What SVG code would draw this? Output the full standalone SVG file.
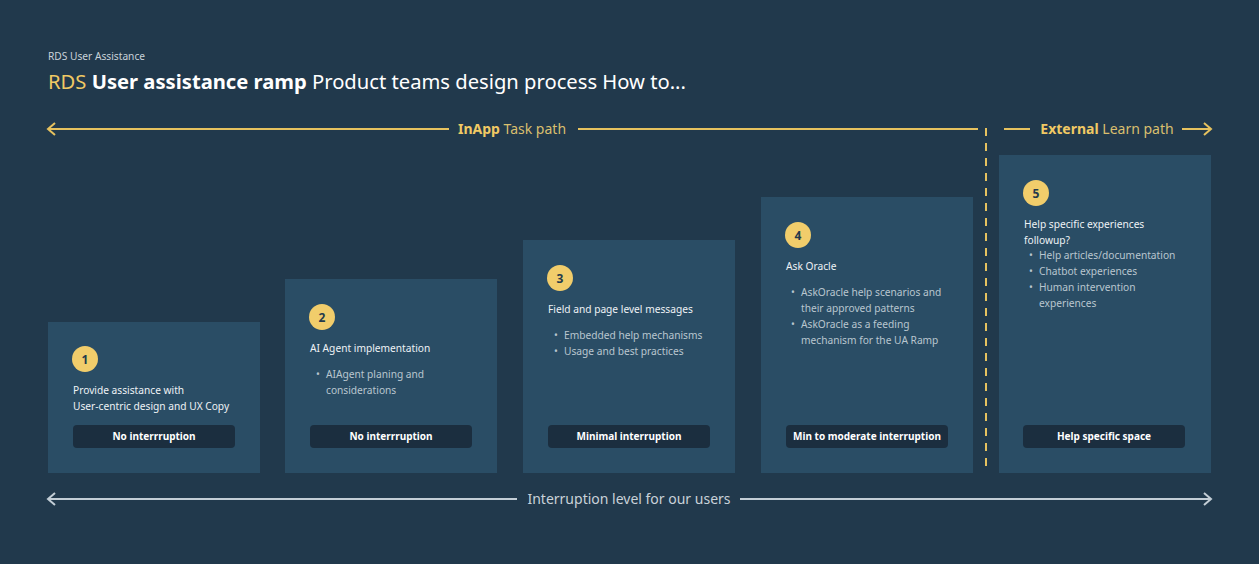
<svg xmlns="http://www.w3.org/2000/svg" width="1259" height="564" viewBox="0 0 1259 564">
<defs>
<style>
.t{font-family:"Noto Sans","Open Sans","Liberation Sans",sans-serif}
.box{fill:#2a4d65}
.pill{fill:#1b2e3f}
.badge{fill:#f1cd6b}
.num{font-size:12px;font-weight:700;fill:#243a4c;text-anchor:middle}
.h{font-size:10.2px;fill:#eef2f5}
.b{font-size:10.2px;fill:#b9c6cf}
.pt{font-size:10px;font-weight:700;fill:#ffffff;text-anchor:middle}
.yl{stroke:#e6c25f;stroke-width:2;fill:none}
.gl{stroke:#c3ced6;stroke-width:2;fill:none}
</style>
</defs>
<rect width="1259" height="564" fill="#21394c"/>
<text class="t" x="48" y="60" font-size="10.2" fill="#c9d2d9">RDS User Assistance</text>
<text class="t" x="48" y="89" font-size="20.2"><tspan fill="#f0c964">RDS </tspan><tspan fill="#ffffff" font-weight="700">User assistance ramp</tspan><tspan fill="#ffffff"> Product teams design process How to...</tspan></text>
<g id="connectors">
<line class="yl" x1="48" y1="129" x2="449" y2="129"/>
<polyline class="yl" points="55,123 48,129 55,135"/>
<line class="yl" x1="578" y1="129" x2="978" y2="129"/>
<line class="yl" x1="986" y1="128" x2="986" y2="473" stroke-dasharray="8,7"/>
<line class="yl" x1="1004" y1="129" x2="1030" y2="129"/>
<line class="yl" x1="1182" y1="129" x2="1211" y2="129"/>
<polyline class="yl" points="1204,123 1211,129 1204,135"/>
<line class="gl" x1="48" y1="499" x2="517" y2="499"/>
<polyline class="gl" points="55,493 48,499 55,505"/>
<line class="gl" x1="740" y1="499" x2="1211" y2="499"/>
<polyline class="gl" points="1204,493 1211,499 1204,505"/>
</g>
<text class="t" x="512" y="134" font-size="14" fill="#d9bf6e" text-anchor="middle"><tspan font-weight="700" fill="#f0c964">InApp</tspan> Task path</text>
<text class="t" x="1107" y="134" font-size="14" fill="#d9bf6e" text-anchor="middle"><tspan font-weight="700" fill="#f0c964">External</tspan> Learn path</text>
<text class="t" x="629" y="504" font-size="14" fill="#c9d2d9" text-anchor="middle">Interruption level for our users</text>

<g id="node1">
<rect class="box" x="48" y="322" width="212" height="151"/>
<circle class="badge" cx="85" cy="359" r="13"/>
<text class="t num" x="85" y="363.5">1</text>
<text class="t h" x="73" y="394">Provide assistance with</text>
<text class="t h" x="73" y="410">User-centric design and UX Copy</text>
<rect class="pill" x="73" y="425" width="162" height="23" rx="4"/>
<text class="t pt" x="154" y="440">No interrruption</text>
</g>
<g id="node2">
<rect class="box" x="285" y="279" width="212" height="194"/>
<circle class="badge" cx="322" cy="317" r="13"/>
<text class="t num" x="322" y="321.5">2</text>
<text class="t h" x="310" y="352">AI Agent implementation</text>
<text class="t b" x="316" y="378">•</text>
<text class="t b" x="326" y="378">AIAgent planing and</text>
<text class="t b" x="326" y="394">considerations</text>
<rect class="pill" x="310" y="425" width="162" height="23" rx="4"/>
<text class="t pt" x="391" y="440">No interrruption</text>
</g>
<g id="node3">
<rect class="box" x="523" y="240" width="212" height="233"/>
<circle class="badge" cx="560" cy="278" r="13"/>
<text class="t num" x="560" y="282.5">3</text>
<text class="t h" x="548" y="313">Field and page level messages</text>
<text class="t b" x="554" y="339">•</text>
<text class="t b" x="564" y="339">Embedded help mechanisms</text>
<text class="t b" x="554" y="355">•</text>
<text class="t b" x="564" y="355">Usage and best practices</text>
<rect class="pill" x="548" y="425" width="162" height="23" rx="4"/>
<text class="t pt" x="629" y="440">Minimal interruption</text>
</g>
<g id="node4">
<rect class="box" x="761" y="197" width="212" height="276"/>
<circle class="badge" cx="798" cy="235" r="13"/>
<text class="t num" x="798" y="239.5">4</text>
<text class="t h" x="786" y="270">Ask Oracle</text>
<text class="t b" x="791" y="296">•</text>
<text class="t b" x="801" y="296">AskOracle help scenarios and</text>
<text class="t b" x="801" y="312">their approved patterns</text>
<text class="t b" x="791" y="328">•</text>
<text class="t b" x="801" y="328">AskOracle as a feeding</text>
<text class="t b" x="801" y="344">mechanism for the UA Ramp</text>
<rect class="pill" x="786" y="425" width="162" height="23" rx="4"/>
<text class="t pt" x="867" y="440">Min to moderate interruption</text>
</g>
<g id="node5">
<rect class="box" x="999" y="155" width="212" height="318"/>
<circle class="badge" cx="1036" cy="193" r="13"/>
<text class="t num" x="1036" y="197.5">5</text>
<text class="t h" x="1024" y="228">Help specific experiences</text>
<text class="t h" x="1024" y="244">followup?</text>
<text class="t b" x="1029" y="259">•</text>
<text class="t b" x="1039" y="259">Help articles/documentation</text>
<text class="t b" x="1029" y="275">•</text>
<text class="t b" x="1039" y="275">Chatbot experiences</text>
<text class="t b" x="1029" y="291">•</text>
<text class="t b" x="1039" y="291">Human intervention</text>
<text class="t b" x="1039" y="307">experiences</text>
<rect class="pill" x="1023" y="425" width="162" height="23" rx="4"/>
<text class="t pt" x="1104" y="440">Help specific space</text>
</g>
</svg>
